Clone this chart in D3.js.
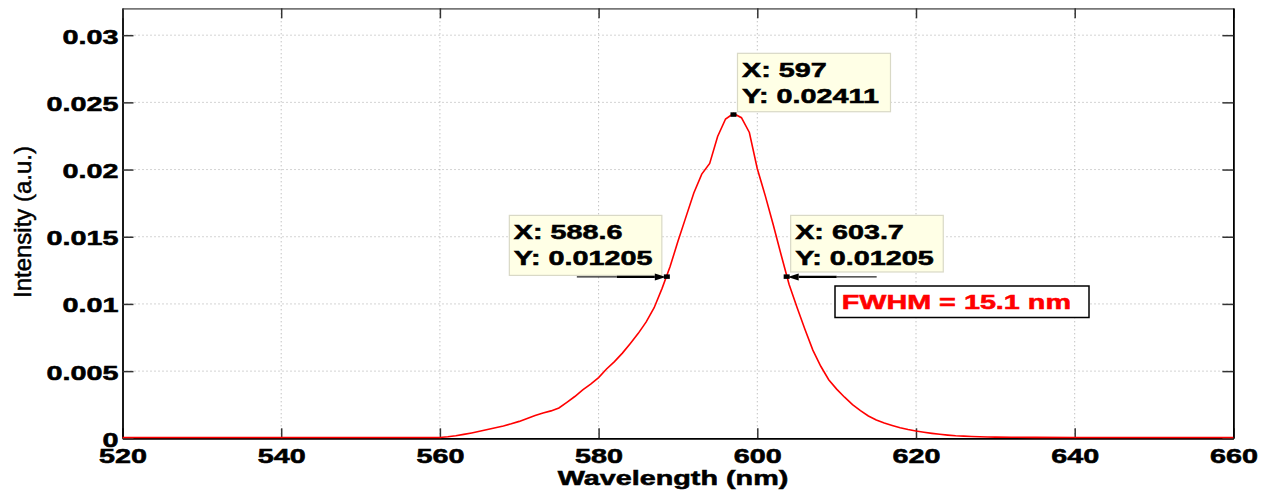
<!DOCTYPE html>
<html><head><meta charset="utf-8">
<script src="https://cdn.jsdelivr.net/npm/d3@7"></script>
<style>body{margin:0;background:#fff;} svg{display:block}</style>
</head><body><svg id="c" width="1268" height="490"></svg>
<script>
// ---- data ----
const wavelength = [520, 525, 530, 540, 550, 555, 558, 560,
  561, 562, 563, 564, 565, 566, 567, 568, 569, 570,
  571, 572, 573, 574, 575, 576, 577, 578, 579, 580,
  581, 582, 583, 584, 585, 586, 587, 588, 589, 590,
  591, 592, 593, 594, 595, 596, 597, 598, 599, 600,
  601, 602, 603, 604, 605, 606, 607, 608, 609, 610,
  611, 612, 613, 614, 615, 616, 617, 618, 619, 620,
  621, 622, 623, 624, 625, 626, 627, 628, 629, 630,
  632, 635, 640, 650, 660];
const intensity = [0, 0, 0, 0, 0, 0, 0, 0,
  0.00005, 0.00013, 0.00023, 0.00034, 0.00046, 0.00059, 0.00072, 0.00086, 0.00102, 0.00120,
  0.00142, 0.00163, 0.00182, 0.00198, 0.00220, 0.00262, 0.00305, 0.00354, 0.00398, 0.00446,
  0.00510, 0.00565, 0.00628, 0.00700, 0.00775, 0.00860, 0.00966, 0.01110, 0.01270, 0.01460,
  0.01640, 0.01820, 0.01960, 0.02040, 0.02240, 0.02370, 0.02411, 0.02380, 0.02270, 0.02000,
  0.01800, 0.01585, 0.01360, 0.01140, 0.00970, 0.00805, 0.00650, 0.00530, 0.00430, 0.00360,
  0.00300, 0.00245, 0.00200, 0.00160, 0.00130, 0.00108, 0.00090, 0.00073, 0.00059, 0.00048,
  0.00039, 0.00031, 0.00024, 0.00018, 0.00013, 0.00010, 0.00008, 0.00006, 0.00004, 0.00003,
  0.00002, 0.00001, 0, 0, 0];
const xTicks = [520, 540, 560, 580, 600, 620, 640, 660];
const xTickLabels = ["520", "540", "560", "580", "600", "620", "640", "660"];
const yTicks = [0, 0.005, 0.01, 0.015, 0.02, 0.025, 0.03];
const yTickLabels = ["0", "0.005", "0.01", "0.015", "0.02", "0.025", "0.03"];
const tipX = [597, 588.6, 603.7];
const tipY = [0.02411, 0.01205, 0.01205];
const tipXLabel = ["X: 597", "X: 588.6", "X: 603.7"];
const tipYLabel = ["Y: 0.02411", "Y: 0.01205", "Y: 0.01205"];
const fwhmLabel = "FWHM = 15.1 nm";
const xLabel = "Wavelength (nm)";
const yLabel = "Intensity (a.u.)";

// ---- layout ----
const L = 122.5, R = 1233.4, T = 8.3, B = 438.3;
const SX = 1.37;            // horizontal stretch of the bold labels
const FONT = "'Liberation Sans', Arial, Helvetica, sans-serif";
const svg = d3.select("#c");
const x = d3.scaleLinear().domain([520, 660]).range([L, R]);
const y = d3.scaleLinear().domain([0, 0.032]).range([B, T]);

function heavy(sel, color) {
  return sel.attr("font-family", FONT).attr("font-weight", "bold").attr("font-size", 21)
    .attr("fill", color).attr("stroke", color).attr("stroke-width", 0.55)
    .attr("paint-order", "stroke");
}
function stext(g, px, py, str, anchor, color) {
  const t = g.append("text")
    .attr("transform", `translate(${px},${py}) scale(${SX},1)`)
    .attr("text-anchor", anchor || "start").text(str);
  return heavy(t, color || "#000");
}

// grid
const grid = svg.append("g").attr("stroke", "#a8a8a8").attr("stroke-width", 1)
  .attr("stroke-dasharray", "1,3");
grid.selectAll("line.v").data(xTicks.slice(1, -1)).join("line")
  .attr("x1", d => x(d)).attr("x2", d => x(d)).attr("y1", B).attr("y2", T);
grid.selectAll("line.h").data(yTicks.slice(1)).join("line")
  .attr("y1", d => y(d)).attr("y2", d => y(d)).attr("x1", L).attr("x2", R);

// axes (inward ticks)
function styleAxis(g) {
  g.selectAll(".tick line").attr("stroke", "#333").attr("stroke-width", 1.5);
  g.select(".domain").attr("stroke", "#000").attr("stroke-width", 1.8);
}
const gx = svg.append("g").attr("transform", `translate(0,${B})`)
  .call(d3.axisBottom(x).tickValues(xTicks).tickSizeInner(-10).tickSizeOuter(0)
    .tickFormat((d, i) => xTickLabels[i]));
styleAxis(gx);
heavy(gx.selectAll(".tick text").attr("y", null).attr("dy", null)
  .attr("transform", `translate(0,24.6) scale(${SX},1)`), "#000");

const gy = svg.append("g").attr("transform", `translate(${L},0)`)
  .call(d3.axisLeft(y).tickValues(yTicks).tickSizeInner(-11).tickSizeOuter(0)
    .tickFormat((d, i) => yTickLabels[i]));
styleAxis(gy);
heavy(gy.selectAll(".tick text").attr("x", null).attr("dy", null)
  .attr("transform", `translate(-4,8.0) scale(${SX},1)`), "#000");

const gt = svg.append("g").attr("transform", `translate(0,${T})`)
  .call(d3.axisTop(x).tickValues(xTicks).tickSizeInner(-10).tickSizeOuter(0).tickFormat(""));
styleAxis(gt);
gt.select(".domain").attr("stroke", "#777");
const gr = svg.append("g").attr("transform", `translate(${R},0)`)
  .call(d3.axisRight(y).tickValues(yTicks).tickSizeInner(-11).tickSizeOuter(0).tickFormat(""));
styleAxis(gr);

// curve
const pts = wavelength.map((w, i) => [w, intensity[i]]);
svg.append("path").datum(pts)
  .attr("fill", "none").attr("stroke", "#ff0000").attr("stroke-width", 1.6)
  .attr("d", d3.line().x(d => x(d[0])).y(d => y(d[1]) - 0.8));

// axis labels
stext(svg, 673, 485, xLabel, "middle");
svg.append("text")
  .attr("transform", `translate(31,222) rotate(-90)`)
  .attr("text-anchor", "middle").attr("font-family", FONT).attr("font-size", 24)
  .attr("fill", "#000").attr("stroke", "#000").attr("stroke-width", 0.5).text(yLabel);

// datatips
const boxOff = [ // [left, top, right, bottom] relative to marker
  [4, -61, 157, -2.6],
  [-157.5, -61, -5, -1],
  [4, -61, 156.6, -4.4]
];
const tips = svg.append("g");
tipX.forEach((tx, i) => {
  const mx = x(tx), my = y(tipY[i]);
  const o = boxOff[i];
  tips.append("rect")
    .attr("x", mx + o[0]).attr("y", my + o[1])
    .attr("width", o[2] - o[0]).attr("height", o[3] - o[1])
    .attr("fill", "#ffffe6").attr("stroke", "#d9d9c6").attr("stroke-width", 1.2);
  stext(tips, mx + o[0] + 4.5, my + o[1] + 23.5, tipXLabel[i]);
  stext(tips, mx + o[0] + 4.5, my + o[1] + 50, tipYLabel[i]);
});
// arrows for side tips
function arrow(mx, my, dir) {
  const far = mx + dir * 90, mid = mx + dir * 50, head = mx + dir * 12;
  tips.append("line").attr("x1", far).attr("x2", mid).attr("y1", my).attr("y2", my)
    .attr("stroke", "#222").attr("stroke-width", 1.2);
  tips.append("line").attr("x1", mid).attr("x2", head).attr("y1", my).attr("y2", my)
    .attr("stroke", "#000").attr("stroke-width", 2.2);
  tips.append("path")
    .attr("d", `M${mx + dir * 1},${my} L${head},${my - 3.5} L${head},${my + 3.5} Z`)
    .attr("fill", "#000");
}
arrow(x(tipX[1]), y(tipY[1]) + 0.5, -1);
arrow(x(tipX[2]), y(tipY[2]) + 0.5, 1);
// markers
tipX.forEach((tx, i) => {
  tips.append("rect").attr("x", x(tx) - 3).attr("y", y(tipY[i]) - 2)
    .attr("width", 6).attr("height", 4.5).attr("fill", "#000");
});

// FWHM box
svg.append("rect").attr("x", 835).attr("y", 286).attr("width", 254).attr("height", 31.5)
  .attr("fill", "#fff").attr("stroke", "#000").attr("stroke-width", 1.5);
stext(svg, 841.7, 309.3, fwhmLabel, "start", "#ff0000");
</script></body></html>
